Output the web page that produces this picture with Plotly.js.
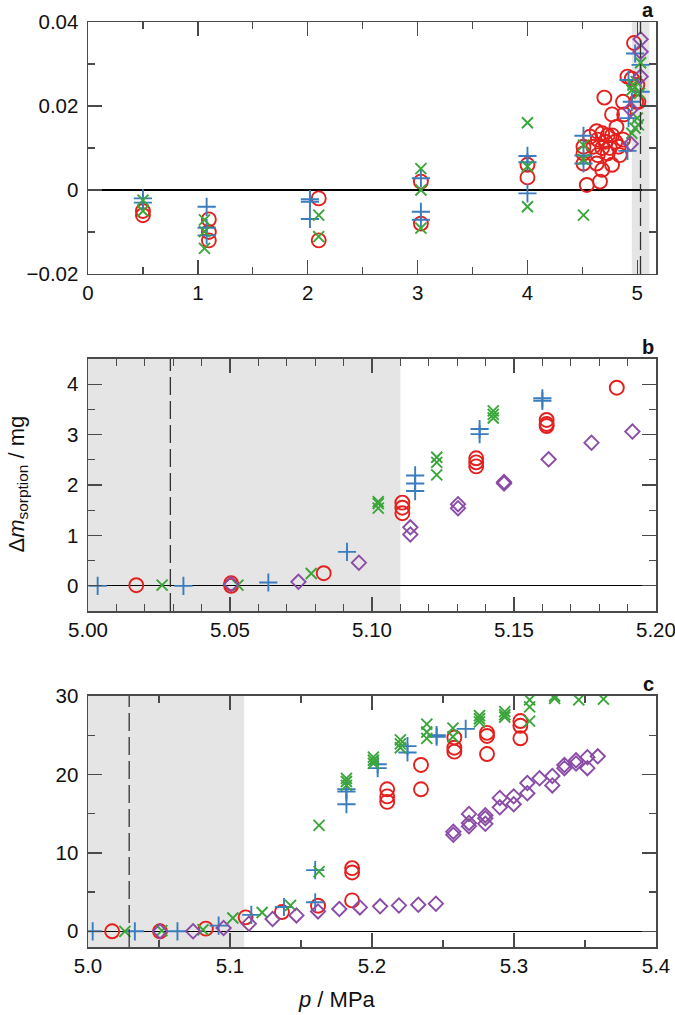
<!DOCTYPE html>
<html><head><meta charset="utf-8">
<script src="https://cdn.plot.ly/plotly-3.0.1.min.js"></script>
<style>body{margin:0;background:#fff}</style>
</head><body><div id="chart" style="width:675px;height:1015px"></div>
<script>
// ---------- Panel a ----------
const aRedX = [0.5,0.5,1.1,1.1,1.1,2.1,2.1,3.03,3.03,4.0,4.0,
  4.97,4.91,4.70,5.00,4.99,4.87,4.77,4.88,4.81,4.63,4.68,4.73,4.77,4.57,4.64,4.71,4.80,4.87,4.51,4.60,4.68,4.75,4.83,4.51,4.64,4.73,4.84,4.51,4.63,4.77,4.68,4.66,4.54,4.95,5.01];
const aRedY = [-0.005,-0.006,-0.007,-0.010,-0.012,-0.002,-0.012,0.002,-0.008,0.006,0.003,
  0.035,0.027,0.022,0.025,0.021,0.021,0.018,0.018,0.015,0.014,0.0135,0.013,0.013,0.0127,0.012,0.0115,0.0115,0.012,0.0103,0.0103,0.010,0.010,0.0103,0.0087,0.0083,0.0087,0.0083,0.0063,0.0063,0.006,0.0048,0.002,0.0012,0.0265,0.021];
const aBlueX = [0.5,0.5,1.08,1.08,1.08,2.02,2.02,2.02,3.03,3.03,3.03,4.0,4.0,4.0,4.51,4.51,4.51,4.92,4.98,5.03,4.92,4.91,5.03,4.95];
const aBlueY = [-0.002,-0.003,-0.004,-0.009,-0.0108,-0.0022,-0.0028,-0.0069,0.0028,-0.0052,-0.0071,0.0081,0.0066,-0.0008,0.0129,0.0082,0.0063,0.0262,0.0325,0.0298,0.0171,0.0093,0.0234,0.021];
const aGreenX = [0.5,0.5,1.06,1.06,1.06,2.1,2.1,3.03,3.03,3.03,4.0,4.0,4.0,4.51,4.51,4.51,4.99,4.95,5.03,5.01,4.98,4.95,5.00,5.02,4.96];
const aGreenY = [-0.0024,-0.005,-0.0071,-0.0099,-0.0139,-0.006,-0.0111,0.0051,0.0,-0.0091,0.016,0.0056,-0.004,0.0107,0.0073,-0.006,0.0258,0.0238,0.0303,0.0155,0.0147,0.0135,0.0171,0.023,0.025];
const aPurpleX = [5.03,5.03,5.03,4.94,4.94];
const aPurpleY = [0.0359,0.0329,0.027,0.0192,0.011];

// ---------- Panel b ----------
const bRedX = [5.017,5.0504,5.0504,5.083,5.1107,5.1107,5.1107,5.1367,5.1367,5.1367,5.1615,5.1615,5.1615,5.1862];
const bRedY = [0.013,0.05,0.0,0.25,1.65,1.55,1.44,2.53,2.45,2.37,3.29,3.21,3.17,3.93];
const bBlueX = [5.0034,5.0336,5.0635,5.0912,5.1152,5.1152,5.1152,5.1379,5.1379,5.160,5.160];
const bBlueY = [0.0,0.0,0.066,0.674,2.19,2.03,1.88,3.11,3.01,3.72,3.67];
const bGreenX = [5.0261,5.0528,5.0786,5.1022,5.1022,5.1022,5.1228,5.1228,5.1228,5.1427,5.1427,5.1427];
const bGreenY = [0.013,0.013,0.245,1.67,1.63,1.54,2.55,2.45,2.2,3.47,3.4,3.33];
const bPurpleX = [5.0504,5.0741,5.0954,5.1135,5.1135,5.1303,5.1303,5.1465,5.1465,5.1622,5.1773,5.1917];
const bPurpleY = [0.03,0.08,0.46,1.16,1.02,1.62,1.54,2.06,2.03,2.51,2.84,3.06];

// ---------- Panel c ----------
const cRedX = [5.017,5.0507,5.083,5.111,5.1366,5.162,5.186,5.186,5.186,5.2107,5.2107,5.2107,5.2345,5.2345,5.258,5.258,5.258,5.281,5.281,5.281,5.3045,5.3045,5.3045];
const cRedY = [0,0,0.34,1.78,2.46,3.26,3.94,7.5,8.05,16.5,17.2,18.1,18.1,21.2,22.9,23.4,24.7,22.6,24.9,25.3,24.6,26.2,26.8];
const cBlueX = [5.0033,5.033,5.063,5.092,5.115,5.138,5.160,5.160,5.182,5.182,5.182,5.204,5.204,5.225,5.225,5.2455,5.2455,5.266];
const cBlueY = [0,0,0,0.72,2.1,3.1,3.7,7.8,16.2,17.8,18.1,20.8,21.3,22.8,23.6,24.8,25.0,25.8];
const cGreenX = [5.026,5.052,5.081,5.102,5.1226,5.1426,5.1627,5.1627,5.182,5.182,5.182,5.201,5.201,5.201,5.22,5.22,5.22,5.2386,5.2386,5.2386,5.257,5.257,5.2757,5.2757,5.2757,5.2935,5.2935,5.2935,5.311,5.311,5.311,5.3286,5.3286,5.3456,5.363];
const cGreenY = [0,0.08,0.2,1.7,2.4,3.3,13.5,7.6,19.5,19.1,18.6,22.2,21.8,21.4,24.4,23.9,23.4,26.4,25.4,24.6,25.9,24.8,27.5,27.1,26.7,28.0,27.6,27.3,29.5,28.6,26.8,30.0,29.7,29.5,29.6];
const cPurpleX = [5.0507,5.074,5.0955,5.1133,5.130,5.1468,5.162,5.177,5.1915,5.2057,5.219,5.2326,5.245,
  5.2573,5.2573,5.2683,5.2683,5.2683,5.2798,5.2798,5.2798,5.290,5.290,5.2998,5.2998,5.3094,5.3094,5.318,5.327,5.327,5.3355,5.3355,5.3437,5.3437,5.3517,5.3517,5.359];
const cPurpleY = [0,0,0.42,0.97,1.57,2.03,2.54,2.84,3.05,3.18,3.3,3.39,3.52,
  12.7,12.3,13.8,13.4,14.96,14.8,14.4,13.7,17.0,15.8,17.2,16.2,18.9,17.6,19.5,19.8,18.6,21.2,20.8,21.8,21.4,22.2,20.8,22.3];

// ---------- annotations / reference lines ----------
const panelLetters = ['a','b','c'];
const bandStart = 4.95, bandEnd = 5.11, dashedP = 5.029;
const xRanges = [[0,5.17],[5.0,5.20001],[5.0,5.40001]];

const colors = {red:'#e41f1c', blue:'#3a7dbf', green:'#3aa63a', purple:'#8a4ca6'};
const styles = {
  red:{symbol:'circle-open', size:14, color:colors.red},
  blue:{symbol:'cross-thin-open', size:13, color:colors.blue},
  green:{symbol:'x-thin-open', size:11, color:colors.green},
  purple:{symbol:'diamond-open', size:11, color:colors.purple}
};
function tr(x,y,k,ax){
  const s = styles[k];
  return {x:x, y:y, type:'scatter', mode:'markers', xaxis:'x'+ax, yaxis:'y'+ax, showlegend:false,
    marker:{symbol:s.symbol, size:s.size, color:s.color, line:{color:s.color, width:1.9}}};
}
const data = [
  tr(aRedX,aRedY,'red',''), tr(aBlueX,aBlueY,'blue',''), tr(aGreenX,aGreenY,'green',''), tr(aPurpleX,aPurpleY,'purple',''),
  tr(bRedX,bRedY,'red','2'), tr(bBlueX,bBlueY,'blue','2'), tr(bGreenX,bGreenY,'green','2'), tr(bPurpleX,bPurpleY,'purple','2'),
  tr(cRedX,cRedY,'red','3'), tr(cBlueX,cBlueY,'blue','3'), tr(cGreenX,cGreenY,'green','3'), tr(cPurpleX,cPurpleY,'purple','3')
];

const lineCol = '#4a4a4a';
function minor(d){ return {ticks:'inside', ticklen:7, tickwidth:1.3, tickcolor:lineCol, dtick:d, showgrid:false}; }
function ax(extra){
  return Object.assign({showline:true, linecolor:lineCol, linewidth:1.5, mirror:'allticks',
    ticks:'inside', ticklen:14, tickwidth:1.3, tickcolor:lineCol, showgrid:false, zeroline:false,
    ticklabeloverflow:'allow', tickfont:{size:20.5, color:'#111'}}, extra);
}
const yDomains = [[0.7276,1],[0.3632,0.6357],[0,0.2714]];
const zl = {zeroline:true, zerolinecolor:'#000', zerolinewidth:1.2, ticklabelstandoff:4};
const layout = {
  width:675, height:1015, margin:{l:88, r:19, t:22, b:68},
  paper_bgcolor:'#fff', plot_bgcolor:'#fff',
  font:{family:'Liberation Sans, Arial, Helvetica, sans-serif', color:'#111'},
  xaxis: ax({range:xRanges[0], dtick:1, tick0:0, anchor:'y', minor:minor(0.5)}),
  yaxis: ax(Object.assign({domain:yDomains[0], range:[-0.02,0.04], dtick:0.02, tick0:0, anchor:'x', minor:minor(0.01)}, zl)),
  xaxis2: ax({range:xRanges[1], dtick:0.05, tick0:5, tickformat:'.2f', anchor:'y2', minor:minor(0.01)}),
  yaxis2: ax(Object.assign({domain:yDomains[1], range:[-0.5,4.5], dtick:1, tick0:0, anchor:'x2', minor:minor(0.5)}, zl)),
  xaxis3: ax({range:xRanges[2], dtick:0.1, tick0:5, tickformat:'.1f', anchor:'y3', minor:minor(0.05)}),
  yaxis3: ax(Object.assign({domain:yDomains[2], range:[-2,30], dtick:10, tick0:0, anchor:'x3', minor:minor(5)}, zl)),
  shapes:[], annotations:[]
};
['','2','3'].forEach((s,i)=>{
  layout.shapes.push({type:'rect', layer:'below', xref:'x'+s, yref:'y'+s+' domain',
    x0:Math.max(bandStart, xRanges[i][0]), x1:bandEnd, y0:0, y1:1, fillcolor:'#e5e5e5', line:{width:0}});
  layout.shapes.push({type:'line', layer:'above', xref:'x'+s, yref:'y'+s+' domain',
    x0:dashedP, x1:dashedP, y0:0, y1:1, line:{color:'#333', width:1.3, dash:'18px,6px'}});
  layout.annotations.push({text:'<b>'+panelLetters[i]+'</b>', xref:'paper', yref:'paper', x:1, xanchor:'right',
    y:yDomains[i][1], yanchor:'middle', yshift:12, showarrow:false, font:{size:20, color:'#111'}});
});
layout.annotations.push({text:'Δ<i>m</i><sub>sorption</sub> / mg', xref:'paper', yref:'paper', x:-0.125, xanchor:'center',
  y:0.5, yanchor:'middle', textangle:-90, showarrow:false, font:{size:22, color:'#111'}});
layout.annotations.push({text:'<i>p</i> / MPa', xref:'paper', yref:'paper', x:0.438, xanchor:'center',
  y:-0.057, yanchor:'middle', showarrow:false, font:{size:22, color:'#111'}});

Plotly.newPlot('chart', data, layout, {displayModeBar:false, staticPlot:true});
</script>
</body></html>
